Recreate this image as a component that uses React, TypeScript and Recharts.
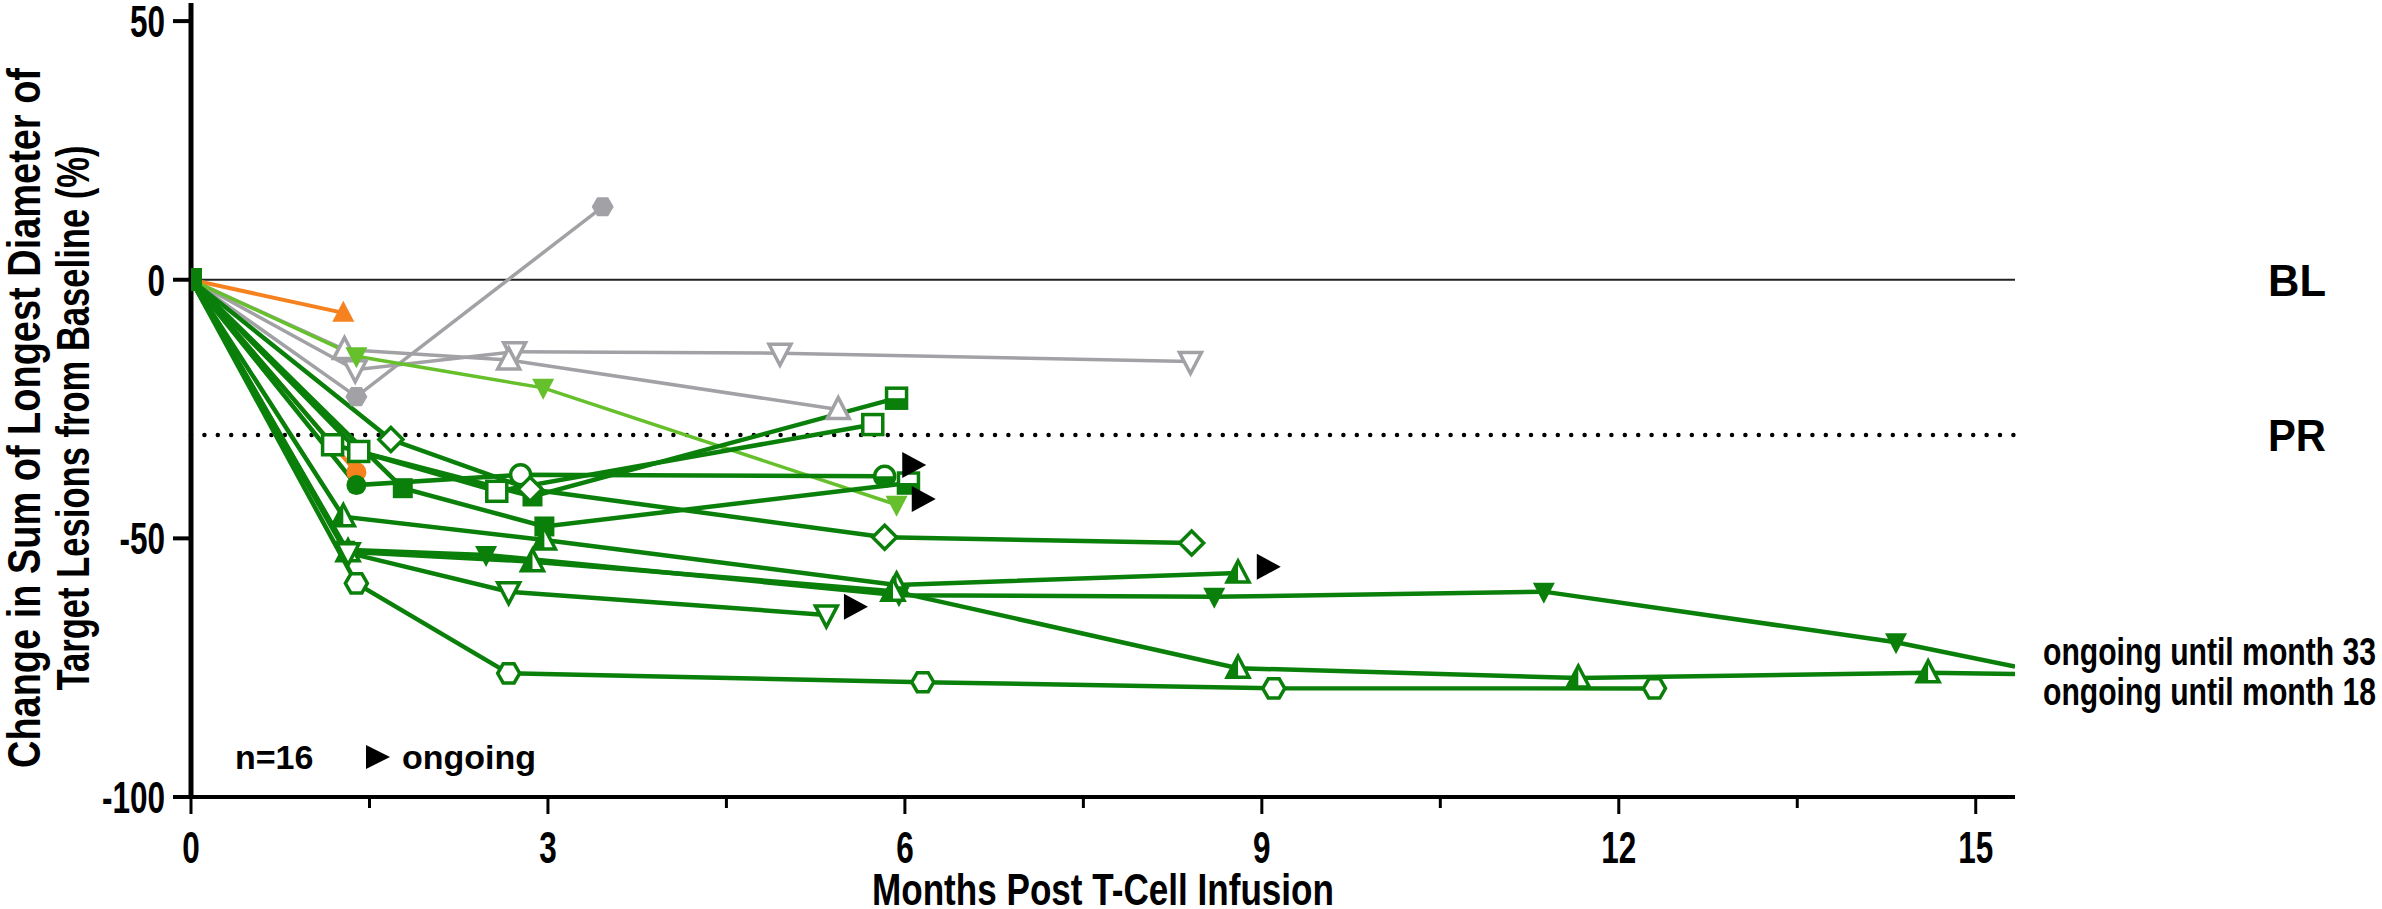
import { ComposedChart, Line, Scatter, XAxis, YAxis, ReferenceLine } from 'recharts';

const FONT = "'Liberation Sans', Arial, sans-serif";
const GREEN = '#0a7f0a';
const LIGHT = '#66c02c';
const GREY = '#a2a2a6';
const ORANGE = '#f5821f';

const X_MAX = 15.33;
const xTicks = [0, 1.5, 3, 4.5, 6, 7.5, 9, 10.5, 12, 13.5, 15];
const xLabelled = [0, 3, 6, 9, 12, 15];
const yTicks = [-100, -50, 0, 50];

// [month, % change from baseline]
const greyHex = [[0, 0], [1.39, -22.6], [3.46, 14.1]];
const greyDown = [[0, 0], [1.38, -17.4], [2.72, -13.9], [4.95, -14.2], [8.4, -15.8]];
const greyUp = [[0, 0], [1.29, -13.5], [2.67, -15.5], [5.44, -25.1]];
const orangeUp = [[0, 0], [1.28, -6.4]];
const orangeCircle = [[0, 0], [1.39, -37.2]];
const lightDown = [[0, 0], [1.39, -14.8], [2.96, -20.9], [5.93, -43.5]];
const greenOpenSquare = [[0, 0], [1.41, -33.2], [2.57, -40.9], [5.73, -28.0]];
const greenHalfSquare = [[0, 0], [1.19, -31.9], [2.87, -41.9], [5.93, -22.9]];
const greenCircle = [[0, 0], [1.39, -39.7], [2.77, -37.7], [5.83, -38.0]];
const greenSquare = [[0, 0], [1.78, -40.3], [2.97, -47.7], [6.03, -39.3]];
const greenDiamond = [[0, 0], [1.68, -30.9], [2.85, -40.5], [5.83, -49.8], [8.41, -50.9]];
const greenHalfUp = [[0, 0], [1.28, -45.8], [2.97, -50.3], [5.93, -59.0], [8.8, -56.7]];
const greenDown = [[0, 0], [1.29, -52.2], [2.48, -53.2], [5.95, -61.0], [8.6, -61.3], [11.37, -60.3], [14.33, -70.1], [15.33, -74.8]];
const greenUp = [[0, 0], [1.32, -52.6], [2.87, -54.5], [5.9, -60.2], [8.8, -75.1], [11.66, -77.0], [14.6, -76.0], [15.33, -76.2]];
const greenOpenDown = [[0, 0], [1.32, -52.8], [2.67, -60.3], [5.34, -64.8]];
const greenHex = [[0, 0], [1.39, -58.7], [2.67, -76.1], [6.15, -77.8], [9.1, -79.0], [12.3, -79.0]];

const ongoingMonths = [6.07, 6.15, 5.58, 9.05];
const ongoingPct = [-35.8, -42.4, -63.2, -55.5];

type Fill = 'solid' | 'open' | 'half';
type Shape = 'square' | 'up' | 'down' | 'circle' | 'diamond' | 'hexagon';

const series: { name: string; data: number[][]; color: string; shape: Shape; fill: Fill | Fill[]; width: number }[] = [
  { name: 'greyHex', data: greyHex, color: GREY, shape: 'hexagon', fill: 'solid', width: 3.5 },
  { name: 'greyDown', data: greyDown, color: GREY, shape: 'down', fill: 'open', width: 3.5 },
  { name: 'greyUp', data: greyUp, color: GREY, shape: 'up', fill: 'open', width: 3.5 },
  { name: 'orangeUp', data: orangeUp, color: ORANGE, shape: 'up', fill: 'solid', width: 4 },
  { name: 'orangeCircle', data: orangeCircle, color: ORANGE, shape: 'circle', fill: 'solid', width: 4 },
  { name: 'lightDown', data: lightDown, color: LIGHT, shape: 'down', fill: 'solid', width: 3.5 },
  { name: 'greenOpenSquare', data: greenOpenSquare, color: GREEN, shape: 'square', fill: 'open', width: 4.5 },
  { name: 'greenHalfSquare', data: greenHalfSquare, color: GREEN, shape: 'square', fill: ['open', 'solid', 'half'], width: 4.5 },
  { name: 'greenCircle', data: greenCircle, color: GREEN, shape: 'circle', fill: ['solid', 'open', 'half'], width: 4.5 },
  { name: 'greenSquare', data: greenSquare, color: GREEN, shape: 'square', fill: ['solid', 'solid', 'half'], width: 4.5 },
  { name: 'greenDiamond', data: greenDiamond, color: GREEN, shape: 'diamond', fill: 'open', width: 4.5 },
  { name: 'greenHalfUp', data: greenHalfUp, color: GREEN, shape: 'up', fill: 'half', width: 4.5 },
  { name: 'greenDown', data: greenDown, color: GREEN, shape: 'down', fill: 'solid', width: 4.5 },
  { name: 'greenUp', data: greenUp, color: GREEN, shape: 'up', fill: 'half', width: 4.5 },
  { name: 'greenOpenDown', data: greenOpenDown, color: GREEN, shape: 'down', fill: 'open', width: 4.5 },
  { name: 'greenHex', data: greenHex, color: GREEN, shape: 'hexagon', fill: 'open', width: 4.5 },
];

function Glyph({ cx, cy, shape, fill, color, r = 11 }: { cx: number; cy: number; shape: Shape; fill: Fill; color: string; r?: number }) {
  const body = fill === 'solid' ? color : '#fff';
  const sw = fill === 'solid' ? 0 : 3.5;
  if (shape === 'square') {
    return (
      <g>
        <rect x={cx - r + 1} y={cy - r + 1} width={2 * r - 2} height={2 * r - 2} fill={body} stroke={color} strokeWidth={sw} />
        {fill === 'half' && <rect x={cx - r + 1} y={cy} width={2 * r - 2} height={r - 1} fill={color} />}
      </g>
    );
  }
  if (shape === 'circle') {
    return (
      <g>
        <circle cx={cx} cy={cy} r={r - 1} fill={body} stroke={color} strokeWidth={sw} />
        {fill === 'half' && <path d={`M${cx - r + 1},${cy} A${r - 1},${r - 1} 0 0 0 ${cx + r - 1},${cy} Z`} fill={color} />}
      </g>
    );
  }
  if (shape === 'up' || shape === 'down') {
    const d = shape === 'up' ? 1 : -1;
    const pts = `${cx},${cy - d * (r + 1)} ${cx + r},${cy + d * (r - 2)} ${cx - r},${cy + d * (r - 2)}`;
    const half = `${cx},${cy - d * (r + 1)} ${cx},${cy + d * (r - 2)} ${cx - r},${cy + d * (r - 2)}`;
    return (
      <g>
        <polygon points={pts} fill={body} stroke={color} strokeWidth={sw} />
        {fill === 'half' && <polygon points={half} fill={color} />}
      </g>
    );
  }
  if (shape === 'diamond') {
    const pts = `${cx},${cy - r - 1} ${cx + r + 1},${cy} ${cx},${cy + r + 1} ${cx - r - 1},${cy}`;
    return <polygon points={pts} fill={body} stroke={color} strokeWidth={sw} />;
  }
  const pts = [0, 60, 120, 180, 240, 300]
    .map((a) => `${cx + r * Math.cos((a * Math.PI) / 180)},${cy + r * Math.sin((a * Math.PI) / 180)}`)
    .join(' ');
  return <polygon points={pts} fill={body} stroke={color} strokeWidth={sw} />;
}

const makeDot = (s: (typeof series)[number]) => (p: any) => {
  const { cx, cy, index, payload } = p;
  if (cx == null || cy == null || payload.x >= X_MAX) return <g key={index} />;
  if (index === 0) return <Glyph key={index} cx={cx} cy={cy} shape="square" fill="solid" color={s.color} r={12} />;
  const fill = Array.isArray(s.fill) ? s.fill[index - 1] : s.fill;
  return <Glyph key={index} cx={cx} cy={cy} shape={s.shape} fill={fill} color={s.color} />;
};

// condensed bold text: squeeze Liberation Sans Bold to a given width
function CText({ x, y, size, width, anchor = 'start', children }: { x: number; y: number; size: number; width: number; anchor?: 'start' | 'middle' | 'end'; children: string }) {
  return (
    <text
      x={x}
      y={y}
      fontFamily={FONT}
      fontWeight={700}
      fontSize={size}
      fill="#000"
      textAnchor={anchor}
      textLength={width}
      lengthAdjust="spacingAndGlyphs"
    >
      {children}
    </text>
  );
}

const numWidth = (s: string, size: number) =>
  s.split('').reduce((w, ch) => w + (ch === '-' ? 0.333 : 0.556), 0) * size * 0.7;

const XTick = (p: any) => {
  const { x, y, payload } = p;
  const major = xLabelled.includes(payload.value);
  const label = String(payload.value);
  return (
    <g>
      <line x1={x} x2={x} y1={y} y2={y + (major ? 17 : 11)} stroke="#000" strokeWidth={3} />
      {major && (
        <CText x={x} y={y + 66} size={45} width={numWidth(label, 45)} anchor="middle">
          {label}
        </CText>
      )}
    </g>
  );
};

const YTick = (p: any) => {
  const { x, y, payload } = p;
  const label = String(payload.value);
  return (
    <CText x={x} y={y + 16} size={45} width={numWidth(label, 45)} anchor="end">
      {label}
    </CText>
  );
};

const Ongoing = (p: any) => {
  const { cx, cy } = p;
  return <polygon points={`${cx - 11},${cy - 13} ${cx + 13},${cy} ${cx - 11},${cy + 13}`} fill="#000" />;
};

const refLabel = (text: string) => (p: any) => {
  const { viewBox } = p;
  return (
    <CText x={2268} y={viewBox.y + 16} size={45} width={58}>
      {text}
    </CText>
  );
};

export default function App() {
  const ongoing = ongoingMonths.map((x, i) => ({ x, y: ongoingPct[i] }));
  return (
    <div style={{ position: 'absolute', left: 0, top: 0, width: 2382, height: 909, background: '#fff' }}>
      <ComposedChart width={2382} height={909} margin={{ top: 3, right: 367, bottom: 52, left: 61 }}>
        <XAxis
          type="number"
          dataKey="x"
          domain={[0, X_MAX]}
          ticks={xTicks}
          allowDataOverflow
          height={60}
          tickSize={0}
          tickMargin={0}
          tickLine={false}
          tick={XTick}
          axisLine={{ stroke: '#000', strokeWidth: 4 }}
        />
        <YAxis
          type="number"
          domain={[-100, 53.5]}
          ticks={yTicks}
          width={130}
          tickSize={18}
          tickMargin={8}
          tickLine={{ stroke: '#000', strokeWidth: 4 }}
          axisLine={{ stroke: '#000', strokeWidth: 5 }}
          tick={YTick}
        />
        <ReferenceLine y={0} stroke="#222" strokeWidth={2} label={refLabel('BL')} />
        <ReferenceLine
          y={-30}
          stroke="#000"
          strokeWidth={4.5}
          strokeDasharray="0 13.4"
          strokeLinecap="round"
          label={refLabel('PR')}
        />
        {series.map((s) => (
          <Line
            key={s.name}
            data={s.data.map(([x, y]) => ({ x, y }))}
            dataKey="y"
            type="linear"
            stroke={s.color}
            strokeWidth={s.width}
            dot={makeDot(s)}
            activeDot={false}
            isAnimationActive={false}
          />
        ))}
        <Scatter data={ongoing} dataKey="y" shape={Ongoing} isAnimationActive={false} />
      </ComposedChart>
      <svg width={2382} height={909} style={{ position: 'absolute', left: 0, top: 0, pointerEvents: 'none' }}>
        <g transform="translate(40,418) rotate(-90)">
          <CText x={0} y={0} size={47} width={700} anchor="middle">
            Change in Sum of Longest Diameter of
          </CText>
        </g>
        <g transform="translate(89,418) rotate(-90)">
          <CText x={0} y={0} size={47} width={545} anchor="middle">
            Target Lesions from Baseline (%)
          </CText>
        </g>
        <CText x={1103} y={905} size={45} width={462} anchor="middle">
          Months Post T-Cell Infusion
        </CText>
        <text x={235} y={769} fontSize={34} fontFamily={FONT} fontWeight={700} fill="#000">
          n=16
        </text>
        <polygon points="366,745 390,757 366,769" fill="#000" />
        <text x={402} y={769} fontSize={34} fontFamily={FONT} fontWeight={700} fill="#000">
          ongoing
        </text>
        <CText x={2043} y={665} size={39} width={333}>
          ongoing until month 33
        </CText>
        <CText x={2043} y={705} size={39} width={333}>
          ongoing until month 18
        </CText>
      </svg>
    </div>
  );
}
